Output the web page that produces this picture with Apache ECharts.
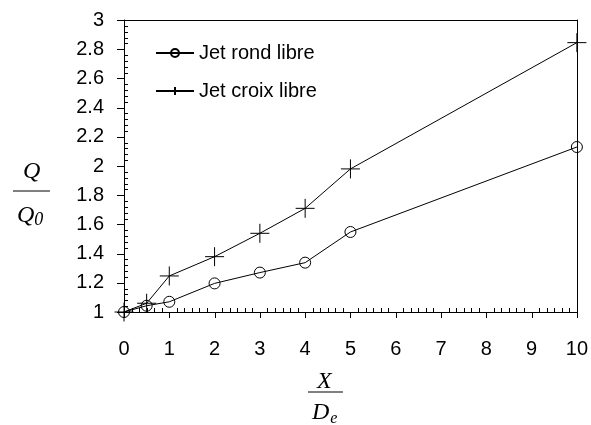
<!DOCTYPE html>
<html>
<head>
<meta charset="utf-8">
<script src="https://cdn.jsdelivr.net/npm/echarts@6/dist/echarts.min.js"></script>
<style>
  html, body { margin: 0; padding: 0; background: #fff; }
  #chart { width: 591px; height: 425px; }
</style>
</head>
<body>
<div id="chart"></div>
<script>
// X/De positions (last point lies past the frame, only its line stub shows)
const xValues = [0, 0.5, 1, 2, 3, 4, 5, 10, 12]
// Q/Q0
const rondValues = [1.0, 1.043, 1.07, 1.196, 1.27, 1.338, 1.548, 2.13, 2.46]
const croixValues = [1.0, 1.06, 1.247, 1.379, 1.539, 1.71, 1.98, 2.845, 3.51]
const seriesNames = ['Jet rond libre', 'Jet croix libre']
// 刻度
const xTicks = [0, 1, 2, 3, 4, 5, 6, 7, 8, 9, 10]
const yTicks = [1, 1.2, 1.4, 1.6, 1.8, 2, 2.2, 2.4, 2.6, 2.8, 3]
const xMinorSplit = 6
const yMinorSplit = 5

const chart = echarts.init(document.getElementById('chart'))

const pairs = (ys) => xValues.map((x, i) => [x, ys[i]])

const axisFont = { fontFamily: 'Liberation Sans', fontSize: 20, color: '#000' }
const titleFont = 'italic 24px "Liberation Serif"'
const black = { color: '#000', width: 1 }

// 只画边框的轴
const frameAxis = (position, min, max, interval) => ({
  type: 'value',
  position,
  min,
  max,
  interval,
  axisLine: { show: true, onZero: false, lineStyle: black },
  axisTick: { show: false },
  axisLabel: { show: false },
  splitLine: { show: false }
})

const titleGraphics = [
  // 纵轴标题 Q/Q0
  {
    type: 'text', left: 23, top: 160,
    style: { text: 'Q', font: titleFont, fill: '#000' }
  },
  {
    type: 'line',
    shape: { x1: 13, y1: 191, x2: 50, y2: 191 },
    style: { stroke: '#000', lineWidth: 1 }
  },
  {
    type: 'text', left: 17, top: 204,
    style: {
      text: '{m|Q}{s|0}',
      rich: {
        m: { font: titleFont, fill: '#000' },
        s: { font: 'italic 18px "Liberation Serif"', fill: '#000', padding: [8, 0, 0, 0] }
      }
    }
  },
  // 横轴标题 X/De
  {
    type: 'text', left: 317, top: 370,
    style: { text: 'X', font: titleFont, fill: '#000' }
  },
  {
    type: 'line',
    shape: { x1: 308, y1: 392, x2: 343, y2: 392 },
    style: { stroke: '#000', lineWidth: 1 }
  },
  {
    type: 'text', left: 312, top: 401,
    style: {
      text: '{m|D}{s|e}',
      rich: {
        m: { font: titleFont, fill: '#000' },
        s: { font: 'italic 16px "Liberation Serif"', fill: '#000', padding: [12, 0, 0, 1] }
      }
    }
  }
]

const option = {
  animation: false,
  backgroundColor: '#fff',
  grid: {
    left: 124,
    right: 13,
    top: 20,
    bottom: 113,
    show: false
  },
  legend: {
    orient: 'vertical',
    left: 150,
    top: 38,
    itemWidth: 38,
    itemHeight: 10,
    itemGap: 18,
    textStyle: { fontFamily: 'Liberation Sans', fontSize: 20, color: '#000' },
    data: seriesNames
  },
  xAxis: [
    {
      type: 'value',
      position: 'bottom',
      min: 0,
      max: 10,
      interval: 1,
      axisLine: { show: true, onZero: false, lineStyle: black },
      axisTick: { show: false },
      axisLabel: { ...axisFont, margin: 27 },
      splitLine: { show: false }
    },
    frameAxis('top', 0, 10, 1)
  ],
  yAxis: [
    {
      type: 'value',
      position: 'left',
      min: 1,
      max: 3,
      interval: 0.2,
      axisLine: { show: true, onZero: false, lineStyle: black },
      axisTick: { show: false },
      axisLabel: { ...axisFont, margin: 20 },
      splitLine: { show: false }
    },
    frameAxis('right', 1, 3, 0.2)
  ],
  series: [
    {
      name: seriesNames[0],
      type: 'line',
      clip: false,
      data: pairs(rondValues),
      symbol: 'circle',
      symbolSize: 11,
      showAllSymbol: true,
      lineStyle: black,
      itemStyle: { color: 'rgba(0,0,0,0)', borderColor: '#000', borderWidth: 1 }
    },
    {
      name: seriesNames[1],
      type: 'line',
      clip: false,
      data: pairs(croixValues),
      symbol: 'path://M0,8H16M8,0V16',
      symbolSize: 19,
      showAllSymbol: true,
      lineStyle: black,
      itemStyle: { color: 'rgba(0,0,0,0)', borderColor: '#000', borderWidth: 1 }
    }
  ],
  graphic: titleGraphics
}

chart.setOption(option)

// 刻度线：主刻度朝外，副刻度朝内，位置由坐标轴换算
const toPx = (x, y) => chart.convertToPixel({ xAxisIndex: 0, yAxisIndex: 0 }, [x, y])
const crisp = (v) => Math.round(v) + 0.5
const tickLine = (x1, y1, x2, y2) => ({
  type: 'line',
  silent: true,
  shape: { x1, y1, x2, y2 },
  style: { stroke: '#000', lineWidth: 1 }
})

const tickGraphics = []
const y0 = yTicks[0]
const x0 = xTicks[0]
xTicks.forEach((v, i) => {
  const [px, py] = toPx(v, y0)
  tickGraphics.push(tickLine(crisp(px), Math.round(py), crisp(px), Math.round(py) + 6))
  if (i < xTicks.length - 1) {
    const step = (xTicks[i + 1] - v) / xMinorSplit
    for (let k = 1; k < xMinorSplit; k++) {
      const [mx, my] = toPx(v + k * step, y0)
      tickGraphics.push(tickLine(crisp(mx), Math.round(my), crisp(mx), Math.round(my) - 4))
    }
  }
})
yTicks.forEach((v, i) => {
  const [px, py] = toPx(x0, v)
  tickGraphics.push(tickLine(Math.round(px) - 7, crisp(py), Math.round(px), crisp(py)))
  if (i < yTicks.length - 1) {
    const step = (yTicks[i + 1] - v) / yMinorSplit
    for (let k = 1; k < yMinorSplit; k++) {
      const [mx, my] = toPx(x0, v + k * step)
      tickGraphics.push(tickLine(Math.round(mx), crisp(my), Math.round(mx) + 4, crisp(my)))
    }
  }
})

chart.setOption({ graphic: titleGraphics.concat(tickGraphics) })
</script>
</body>
</html>
